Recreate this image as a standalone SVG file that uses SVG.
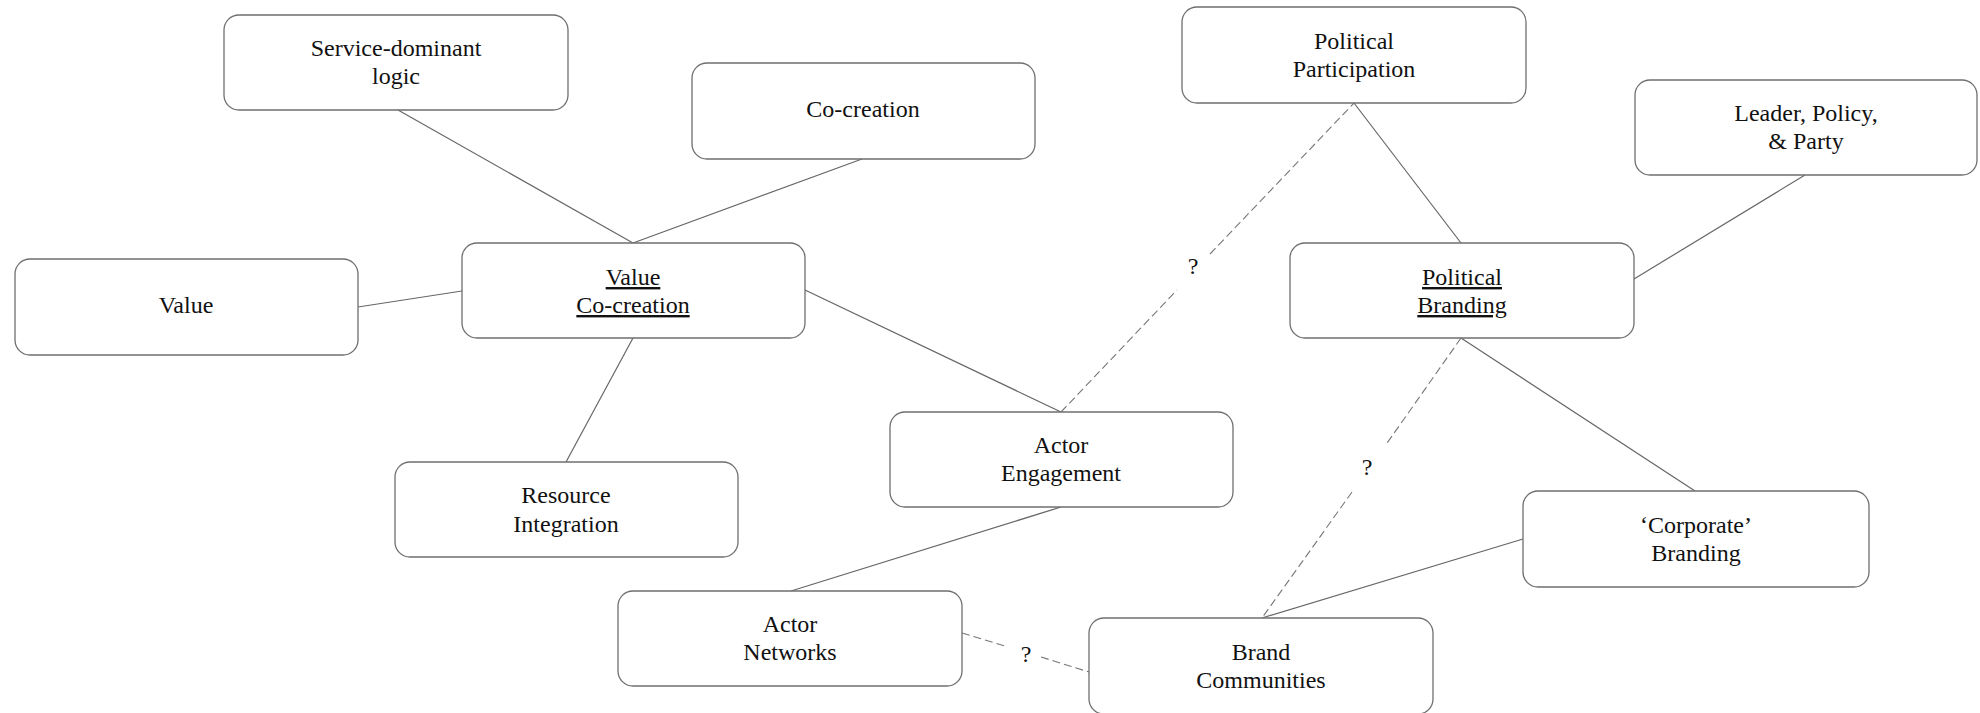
<svg xmlns="http://www.w3.org/2000/svg" width="1980" height="713" viewBox="0 0 1980 713">
  <style>
    .box { fill: #ffffff; stroke: #6f6f6f; stroke-width: 1.3; }
    .lbl { font-family: "Liberation Serif", "Times New Roman", serif; font-size: 24px; fill: #111111; text-anchor: middle; }
    .u { text-decoration: underline; }
    .link { stroke: #666666; stroke-width: 1.2; fill: none; }
    .dash { stroke: #777777; stroke-width: 1.1; fill: none; stroke-dasharray: 8 4; }
  </style>
  <rect width="1980" height="713" fill="#ffffff"/>

  <!-- connectors -->
  <g id="connectors">
    <line class="link" x1="398" y1="110" x2="633" y2="243"/>
    <line class="link" x1="862" y1="159" x2="633" y2="243"/>
    <line class="link" x1="358" y1="307" x2="462" y2="291"/>
    <line class="link" x1="633" y1="338" x2="566" y2="462"/>
    <line class="link" x1="805" y1="290" x2="1061" y2="412"/>
    <line class="link" x1="1061" y1="507" x2="791" y2="591"/>
    <line class="link" x1="1354" y1="103" x2="1461" y2="243"/>
    <line class="link" x1="1805" y1="175" x2="1634" y2="279"/>
    <line class="link" x1="1461" y1="338" x2="1695" y2="491"/>
    <line class="link" x1="1262" y1="618" x2="1523" y2="539"/>
    <!-- uncertain links -->
    <line class="dash" x1="1061" y1="412" x2="1177" y2="290"/>
    <line class="dash" x1="1210" y1="254" x2="1354" y2="103"/>
    <text class="lbl" x="1193" y="274">?</text>
    <line class="dash" x1="1461" y1="338" x2="1385" y2="446"/>
    <line class="dash" x1="1352" y1="492" x2="1262" y2="618"/>
    <text class="lbl" x="1367" y="475">?</text>
    <line class="dash" x1="962" y1="633" x2="1008" y2="647"/>
    <line class="dash" x1="1041" y1="657" x2="1089" y2="672"/>
    <text class="lbl" x="1026" y="662">?</text>
  </g>

  <g id="service-dominant-logic">
    <rect class="box" x="224" y="15" width="344" height="95" rx="15"/>
    <text class="lbl" x="396" y="56">Service-dominant</text>
    <text class="lbl" x="396" y="84">logic</text>
  </g>
  <g id="co-creation">
    <rect class="box" x="692" y="63" width="343" height="96" rx="15"/>
    <text class="lbl" x="863" y="117">Co-creation</text>
  </g>
  <g id="political-participation">
    <rect class="box" x="1182" y="7" width="344" height="96" rx="15"/>
    <text class="lbl" x="1354" y="49">Political</text>
    <text class="lbl" x="1354" y="77">Participation</text>
  </g>
  <g id="leader-policy-party">
    <rect class="box" x="1635" y="80" width="342" height="95" rx="15"/>
    <text class="lbl" x="1806" y="121">Leader, Policy,</text>
    <text class="lbl" x="1806" y="149">&amp; Party</text>
  </g>
  <g id="value">
    <rect class="box" x="15" y="259" width="343" height="96" rx="15"/>
    <text class="lbl" x="186" y="313">Value</text>
  </g>
  <g id="value-co-creation">
    <rect class="box" x="462" y="243" width="343" height="95" rx="15"/>
    <text class="lbl u" x="633" y="285">Value</text>
    <text class="lbl u" x="633" y="313">Co-creation</text>
  </g>
  <g id="political-branding">
    <rect class="box" x="1290" y="243" width="344" height="95" rx="15"/>
    <text class="lbl u" x="1462" y="285">Political</text>
    <text class="lbl u" x="1462" y="313">Branding</text>
  </g>
  <g id="resource-integration">
    <rect class="box" x="395" y="462" width="343" height="95" rx="15"/>
    <text class="lbl" x="566" y="503">Resource</text>
    <text class="lbl" x="566" y="532">Integration</text>
  </g>
  <g id="actor-engagement">
    <rect class="box" x="890" y="412" width="343" height="95" rx="15"/>
    <text class="lbl" x="1061" y="453">Actor</text>
    <text class="lbl" x="1061" y="481">Engagement</text>
  </g>
  <g id="corporate-branding">
    <rect class="box" x="1523" y="491" width="346" height="96" rx="15"/>
    <text class="lbl" x="1696" y="533">‘Corporate’</text>
    <text class="lbl" x="1696" y="561">Branding</text>
  </g>
  <g id="actor-networks">
    <rect class="box" x="618" y="591" width="344" height="95" rx="15"/>
    <text class="lbl" x="790" y="632">Actor</text>
    <text class="lbl" x="790" y="660">Networks</text>
  </g>
  <g id="brand-communities">
    <rect class="box" x="1089" y="618" width="344" height="96" rx="15"/>
    <text class="lbl" x="1261" y="660">Brand</text>
    <text class="lbl" x="1261" y="688">Communities</text>
  </g>
</svg>
